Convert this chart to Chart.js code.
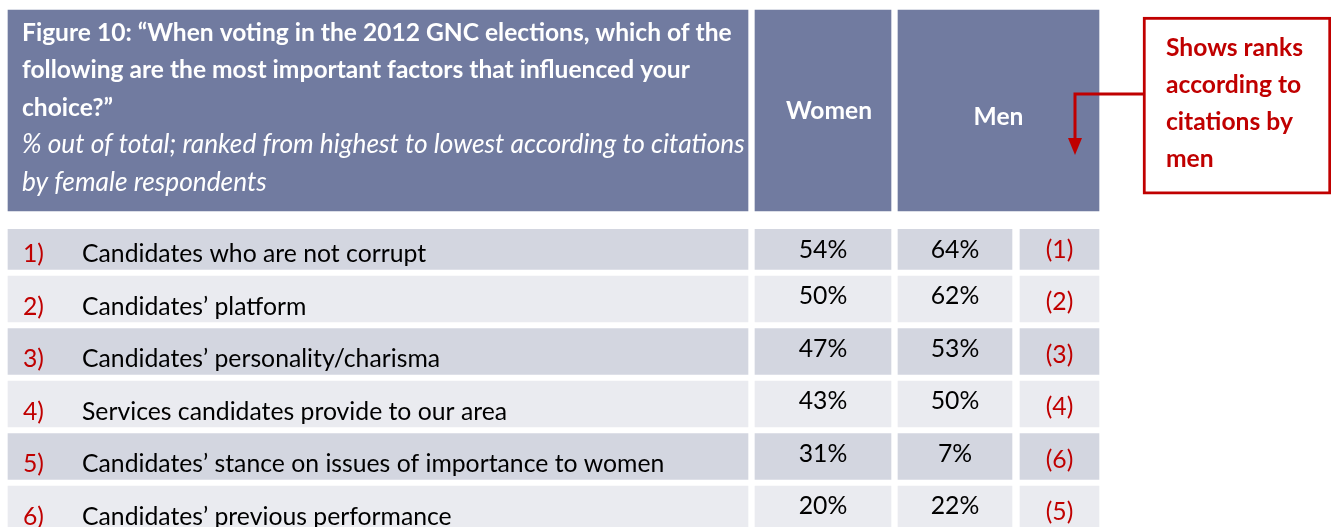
<!DOCTYPE html>
<html>
<head>
<meta charset="utf-8">
<script src="https://cdn.jsdelivr.net/npm/chart.js@4.4.1/dist/chart.umd.min.js"></script>
<style>
  html, body { margin: 0; padding: 0; background: #fff; }
  #wrap { width: 1331px; height: 527px; }
</style>
</head>
<body>
<div id="wrap"><canvas id="chart"></canvas></div>
<script>
// Table content
const titleLines = [
    'Figure 10: “When voting in the 2012 GNC elections, which of the',
    'following are the most important factors that influenced your',
    'choice?”'
];
const subtitleLines = [
    '% out of total; ranked from highest to lowest according to citations',
    'by female respondents'
];
const columnHeaders = ['Women', 'Men'];
const rowNumbers = ['1)', '2)', '3)', '4)', '5)', '6)'];
const factors = [
    'Candidates who are not corrupt',
    'Candidates’ platform',
    'Candidates’ personality/charisma',
    'Services candidates provide to our area',
    'Candidates’ stance on issues of importance to women',
    'Candidates’ previous performance'
];
const womenPct = [54, 50, 47, 43, 31, 20];
const menPct = [64, 62, 53, 50, 7, 22];
const menRank = [1, 2, 3, 4, 6, 5];
const noteLines = ['Shows ranks', 'according to', 'citations by', 'men'];

// Styles
const FONT = 'Lato, "Open Sans", sans-serif';
const HEADER_BG = '#717BA0';
const ROW_BG = ['#D3D6E0', '#EAEBF0'];
const RED = '#C00000';

// Column spans on the x scale (0..1331 = page width)
const COL_LABEL = [8, 748];
const COL_WOMEN = [755, 891];
const COL_MEN_HEAD = [898, 1099];
const COL_MEN = [898, 1012];
const COL_RANK = [1020, 1099];
const COL_NOTE = [1143, 1331];

// y scale in row units: rows 1..6, header and note sit above row 1
const Y_MIN = -3.695, Y_MAX = 6.343;
const HEADER_ROW = -1.59;
const NOTE_ROW = -1.684;
const BODY_TOP = 229;

// Build the cells
const headerCells = [COL_LABEL, COL_WOMEN, COL_MEN_HEAD].map(c => ({ x: c, y: HEADER_ROW }));
const bodyCells = [];
factors.forEach((f, i) => {
    [COL_LABEL, COL_WOMEN, COL_MEN, COL_RANK].forEach(c => bodyCells.push({ x: c, y: i + 1 }));
});
const noteCells = [{ x: COL_NOTE, y: NOTE_ROW }];

const fitCache = {};
function fitFont(ctx, style, text, width) {
    const key = style + '|' + text + '|' + width;
    if (!fitCache[key]) {
        ctx.font = style + ' 100px ' + FONT;
        fitCache[key] = 100 * width / ctx.measureText(text).width;
    }
    return style + ' ' + fitCache[key].toFixed(2) + 'px ' + FONT;
}
function fitSize(style, text, width) {
    return fitCache[style + '|' + text + '|' + width];
}

// Texts and the arrow, positioned from the scales
const tableText = {
    id: 'tableText',
    afterDatasetsDraw(chart) {
        const { ctx, scales: { x, y } } = chart;
        ctx.save();
        ctx.textBaseline = 'alphabetic';

        // header
        const hTop = y.getPixelForValue(HEADER_ROW) - 100.5;
        const left = x.getPixelForValue(COL_LABEL[0]) + 14;
        ctx.fillStyle = '#fff';
        ctx.textAlign = 'left';
        ctx.font = fitFont(ctx, 'bold', titleLines[0], 710);
        titleLines.forEach((t, i) => ctx.fillText(t, left, hTop + 30.7 + i * 37.5));
        ctx.font = fitFont(ctx, 'italic', subtitleLines[0], 723);
        subtitleLines.forEach((t, i) => ctx.fillText(t, left, hTop + 30.7 + (i + 3) * 37.5));

        ctx.textAlign = 'center';
        ctx.font = fitFont(ctx, 'bold', columnHeaders[0], 86);
        ctx.fillText(columnHeaders[0], x.getPixelForValue((COL_WOMEN[0] + COL_WOMEN[1]) / 2) + 6, hTop + 109.3);
        ctx.fillText(columnHeaders[1], x.getPixelForValue((COL_MEN_HEAD[0] + COL_MEN_HEAD[1]) / 2), hTop + 115);

        // body rows
        const bodyFont = fitFont(ctx, 'normal', factors[0], 344);
        const bodySize = fitSize('normal', factors[0], 344);
        ctx.font = bodyFont;
        factors.forEach((f, i) => {
            const cy = y.getPixelForValue(i + 1);
            const top = Math.max(cy - 23, BODY_TOP);
            ctx.textAlign = 'left';
            ctx.fillStyle = RED;
            ctx.fillText(rowNumbers[i], x.getPixelForValue(COL_LABEL[0]) + 15, cy + 16);
            ctx.fillStyle = '#000';
            ctx.fillText(f, x.getPixelForValue(COL_LABEL[0]) + 74, cy + 16);
            ctx.textAlign = 'center';
            ctx.fillText(womenPct[i] + '%', x.getPixelForValue((COL_WOMEN[0] + COL_WOMEN[1]) / 2), top + 28.5);
            ctx.fillText(menPct[i] + '%', x.getPixelForValue((COL_MEN[0] + COL_MEN[1]) / 2), top + 28.5);
            ctx.fillStyle = RED;
            ctx.fillText('(' + menRank[i] + ')', x.getPixelForValue((COL_RANK[0] + COL_RANK[1]) / 2), cy + 3 + bodySize * 0.33);
        });

        // note box text
        const nTop = y.getPixelForValue(NOTE_ROW) - 88.5;
        const nLeft = x.getPixelForValue(COL_NOTE[0]);
        ctx.textAlign = 'left';
        ctx.fillStyle = RED;
        ctx.font = fitFont(ctx, 'bold', noteLines[0], 137);
        noteLines.forEach((t, i) => ctx.fillText(t, nLeft + 23, nTop + 38.7 + i * 37.1));

        // connector arrow to the men column
        const ax = x.getPixelForValue(1075);
        const ay = nTop + 77;
        ctx.strokeStyle = RED;
        ctx.lineWidth = 3;
        ctx.beginPath();
        ctx.moveTo(nLeft + 1, ay);
        ctx.lineTo(ax, ay);
        ctx.lineTo(ax, ay + 45);
        ctx.stroke();
        ctx.beginPath();
        ctx.moveTo(ax - 7, ay + 44);
        ctx.lineTo(ax + 7, ay + 44);
        ctx.lineTo(ax, ay + 61);
        ctx.closePath();
        ctx.fill();
        ctx.restore();
    }
};

const ctx = document.getElementById('chart').getContext('2d');
new Chart(ctx, {
    type: 'bar',
    data: {
        datasets: [{
            label: 'header',
            data: headerCells,
            stack: 'table',
            backgroundColor: HEADER_BG,
            barThickness: 201,
            borderSkipped: false
        }, {
            label: 'rows',
            data: bodyCells,
            stack: 'table',
            backgroundColor: c => ROW_BG[(c.raw.y + 1) % 2],
            barThickness: 46,
            borderSkipped: false,
            clip: { left: false, right: false, bottom: false, top: -BODY_TOP }
        }, {
            label: 'note',
            data: noteCells,
            stack: 'table',
            backgroundColor: '#fff',
            borderColor: RED,
            borderWidth: 3,
            barThickness: 177,
            borderSkipped: false
        }]
    },
    options: {
        indexAxis: 'y',
        responsive: true,
        maintainAspectRatio: false,
        animation: false,
        events: [],
        layout: { padding: 0 },
        plugins: {
            legend: { display: false },
            tooltip: { enabled: false }
        },
        scales: {
            x: { type: 'linear', min: 0, max: 1331, display: false, stacked: false, offset: false, bounds: 'data', grace: 0 },
            y: {
                type: 'linear', min: Y_MIN, max: Y_MAX, reverse: true, display: false,
                offset: false, bounds: 'data', grace: 0,
                afterDataLimits: s => { s.min = Y_MIN; s.max = Y_MAX; }
            }
        }
    },
    plugins: [tableText]
});
</script>
</body>
</html>
